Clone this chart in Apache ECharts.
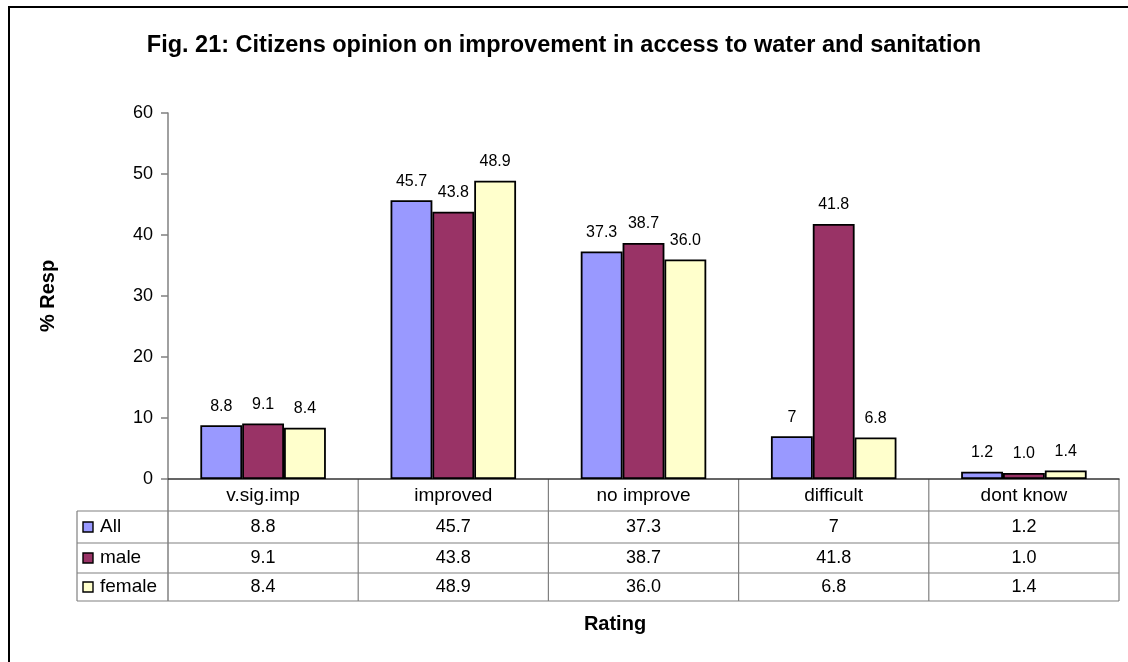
<!DOCTYPE html>
<html>
<head>
<meta charset="utf-8">
<title>Fig. 21</title>
<script src="https://cdn.jsdelivr.net/npm/echarts@6/dist/echarts.min.js"></script>
<style>
  html, body { margin: 0; padding: 0; background: #fff; }
  #chart { width: 1128px; height: 662px; }
</style>
</head>
<body>
<div id="chart"></div>
<script>
// Ratings on the category axis
const categories = ['v.sig.imp', 'improved', 'no improve', 'difficult', 'dont know'];
// Respondent groups
const seriesNames = ['All', 'male', 'female'];
// Percent of respondents, as printed in the data table
const allValues = ['8.8', '45.7', '37.3', '7', '1.2'];
const maleValues = ['9.1', '43.8', '38.7', '41.8', '1.0'];
const femaleValues = ['8.4', '48.9', '36.0', '6.8', '1.4'];
// Value axis range
const yMin = 0;
const yMax = 60;
const yStep = 10;

const valueRows = [allValues, maleValues, femaleValues];
const colors = ['#9999FF', '#993366', '#FFFFCC'];
const FONT = "'Liberation Sans', Arial, sans-serif";

const chart = echarts.init(document.getElementById('chart'), null, { renderer: 'canvas' });

const grid = { left: 168, right: 9, top: 113, bottom: 183 };

chart.setOption({
  animation: false,
  backgroundColor: '#ffffff',
  title: {
    text: 'Fig. 21: Citizens opinion on improvement in access to water and sanitation',
    left: 'center',
    top: 29,
    textStyle: { fontFamily: FONT, fontSize: 23.5, fontWeight: 'bold', color: '#000' }
  },
  grid: grid,
  xAxis: {
    type: 'category',
    data: categories,
    axisLine: { show: true, lineStyle: { color: '#333', width: 1.5 } },
    axisTick: { show: false },
    axisLabel: { margin: 7, fontFamily: FONT, fontSize: 19, color: '#000' },
    splitLine: { show: false }
  },
  yAxis: {
    type: 'value',
    min: yMin,
    max: yMax,
    interval: yStep,
    name: '% Resp',
    nameLocation: 'middle',
    nameRotate: 90,
    nameGap: 110,
    nameTextStyle: { fontFamily: FONT, fontSize: 20, fontWeight: 'bold', color: '#000' },
    axisLine: { show: true, lineStyle: { color: '#808080', width: 1.5 } },
    axisTick: { show: true, length: 7, lineStyle: { color: '#808080', width: 1.5 } },
    axisLabel: { margin: 15, fontFamily: FONT, fontSize: 18, color: '#000' },
    splitLine: { show: false }
  },
  series: seriesNames.map((name, s) => ({
    name: name,
    type: 'bar',
    data: valueRows[s].map(Number),
    barGap: '0%',
    barCategoryGap: '34%',
    itemStyle: { color: colors[s], borderColor: '#000', borderWidth: 1.8 },
    label: {
      show: true,
      position: 'top',
      distance: 11,
      fontFamily: FONT,
      fontSize: 16,
      color: '#000',
      formatter: p => valueRows[s][p.dataIndex]
    }
  }))
});

// Data table below the plot, aligned to the category bands
function drawTable() {
  const c0 = chart.convertToPixel({ xAxisIndex: 0 }, 0);
  const c1 = chart.convertToPixel({ xAxisIndex: 0 }, 1);
  const band = c1 - c0;
  const axisY = chart.convertToPixel({ yAxisIndex: 0 }, 0);
  const plotLeft = c0 - band / 2;
  const plotRight = plotLeft + band * categories.length;
  const tableLeft = 77;
  const rowEdges = [axisY, 511, 543, 573, 601];
  const gridColor = '#808080';
  const els = [];

  // outer chart frame
  els.push({
    type: 'rect', silent: true,
    shape: { x: 9, y: 7, width: 1140, height: 680 },
    style: { fill: 'none', stroke: '#000', lineWidth: 2 }
  });

  // horizontal rules of the table
  for (let r = 1; r < rowEdges.length; r++) {
    els.push({
      type: 'line', silent: true,
      shape: { x1: tableLeft, y1: rowEdges[r], x2: plotRight, y2: rowEdges[r] },
      style: { stroke: gridColor, lineWidth: 1.2 }
    });
  }
  // left edge of the legend column
  els.push({
    type: 'line', silent: true,
    shape: { x1: tableLeft, y1: rowEdges[1], x2: tableLeft, y2: rowEdges[4] },
    style: { stroke: gridColor, lineWidth: 1.2 }
  });
  // vertical rules at category boundaries
  for (let i = 0; i <= categories.length; i++) {
    const x = plotLeft + band * i;
    els.push({
      type: 'line', silent: true,
      shape: { x1: x, y1: axisY, x2: x, y2: rowEdges[4] },
      style: { stroke: gridColor, lineWidth: i === 0 ? 1.5 : 1.2 }
    });
  }

  // legend keys and series names
  seriesNames.forEach((name, s) => {
    const cy = (rowEdges[s + 1] + rowEdges[s + 2]) / 2;
    els.push({
      type: 'rect', silent: true,
      shape: { x: 83, y: cy - 5, width: 10, height: 10 },
      style: { fill: colors[s], stroke: '#000', lineWidth: 1.4 }
    });
    els.push({
      type: 'text', silent: true,
      style: {
        x: 100, y: cy, text: name, fill: '#000',
        font: '19px ' + FONT, textAlign: 'left', textVerticalAlign: 'middle'
      }
    });
    valueRows[s].forEach((v, i) => {
      const cx = chart.convertToPixel({ xAxisIndex: 0 }, i);
      els.push({
        type: 'text', silent: true,
        style: {
          x: cx, y: cy, text: v, fill: '#000',
          font: '18px ' + FONT, textAlign: 'center', textVerticalAlign: 'middle'
        }
      });
    });
  });

  // axis title under the table
  els.push({
    type: 'text', silent: true,
    style: {
      x: 615, y: 624, text: 'Rating', fill: '#000',
      font: 'bold 20px ' + FONT, textAlign: 'center', textVerticalAlign: 'middle'
    }
  });

  chart.setOption({ graphic: els });
}

drawTable();
</script>
</body>
</html>
